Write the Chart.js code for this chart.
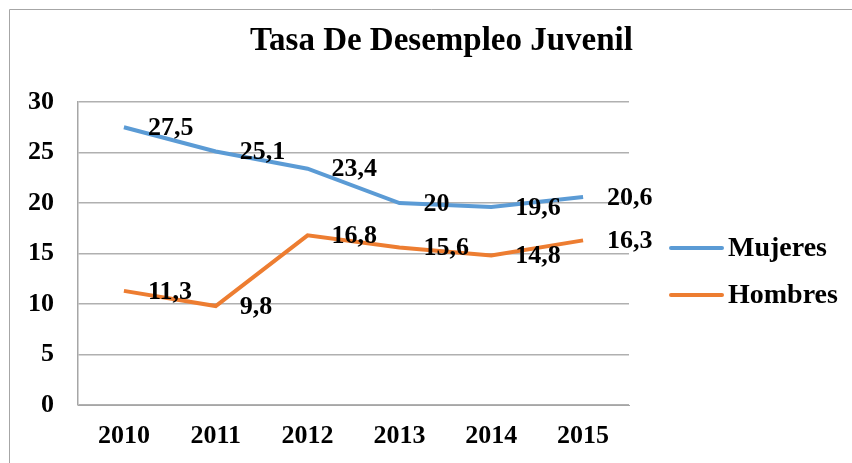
<!DOCTYPE html>
<html>
<head>
<meta charset="utf-8">
<script src="https://cdn.jsdelivr.net/npm/chart.js@4.4.0/dist/chart.umd.min.js"></script>
<style>
  html, body { margin: 0; padding: 0; background: #fff; }
  #wrap { width: 852px; height: 463px; }
</style>
</head>
<body>
<div id="wrap"><canvas id="desempleoChart"></canvas></div>
<script>
// data
const years = ['2010', '2011', '2012', '2013', '2014', '2015'];
const mujeres = [27.5, 25.1, 23.4, 20, 19.6, 20.6];
const hombres = [11.3, 9.8, 16.8, 15.6, 14.8, 16.3];
const seriesNames = ['Mujeres', 'Hombres'];
const yTicks = [0, 5, 10, 15, 20, 25, 30];
const chartTitle = 'Tasa De Desempleo Juvenil';

const serif = "'Liberation Serif', 'Times New Roman', serif";

// frame around the chart (cut at right/bottom like the screenshot) + title
// title is centred on the whole frame, not on the plot area, so draw it here
const framePlugin = {
    id: 'frame',
    beforeDraw(chart) {
        const c = chart.ctx;
        c.save();
        c.strokeStyle = '#a6a6a6';
        c.lineWidth = 1;
        c.beginPath();
        c.moveTo(9.5, 470);
        c.lineTo(9.5, 9.5);
        c.lineTo(860, 9.5);
        c.stroke();

        c.font = 'bold 33px ' + serif;
        c.fillStyle = '#000';
        c.textAlign = 'center';
        c.textBaseline = 'alphabetic';
        c.fillText(chartTitle, 441.5, 50);
        c.restore();
    }
};

// value labels to the right of each point, comma decimals
const valueLabels = {
    id: 'valueLabels',
    afterDatasetsDraw(chart) {
        const c = chart.ctx;
        c.save();
        c.font = 'bold 26px ' + serif;
        c.fillStyle = '#000';
        c.textAlign = 'left';
        c.textBaseline = 'middle';
        chart.data.datasets.forEach((ds, i) => {
            chart.getDatasetMeta(i).data.forEach((pt, j) => {
                const txt = String(ds.data[j]).replace('.', ',');
                c.fillText(txt, pt.x + 24, pt.y + 1);
            });
        });
        c.restore();
    }
};

// legend on the right, line samples
const sideLegend = {
    id: 'sideLegend',
    afterDraw(chart) {
        const c = chart.ctx;
        c.save();
        c.font = 'bold 28px ' + serif;
        c.textBaseline = 'middle';
        c.textAlign = 'left';
        chart.data.datasets.forEach((ds, i) => {
            const y = 248 + i * 47;
            c.strokeStyle = ds.borderColor;
            c.lineWidth = 4;
            c.lineCap = 'round';
            c.beginPath();
            c.moveTo(671, y);
            c.lineTo(722, y);
            c.stroke();
            c.fillStyle = '#000';
            c.fillText(ds.label, 728, y + 1);
        });
        c.restore();
    }
};

new Chart(document.getElementById('desempleoChart').getContext('2d'), {
    type: 'line',
    data: {
        labels: years,
        datasets: [
            {
                label: seriesNames[0],
                data: mujeres,
                borderColor: '#5b9bd5',
                backgroundColor: '#5b9bd5',
                borderWidth: 4,
                pointRadius: 0,
                tension: 0
            },
            {
                label: seriesNames[1],
                data: hombres,
                borderColor: '#ed7d31',
                backgroundColor: '#ed7d31',
                borderWidth: 4,
                pointRadius: 0,
                tension: 0
            }
        ]
    },
    options: {
        responsive: true,
        maintainAspectRatio: false,
        animation: false,
        layout: {
            padding: { left: 10, top: 102, right: 223, bottom: 0 }
        },
        plugins: {
            legend: { display: false },
            tooltip: { enabled: false },
            title: { display: false }
        },
        scales: {
            x: {
                offset: true,
                grid: { display: false, drawTicks: false },
                border: { display: true, color: '#a6a6a6', width: 1 },
                ticks: {
                    color: '#000',
                    padding: 16,
                    maxRotation: 0,
                    font: { family: serif, size: 26, weight: 'bold' }
                },
                afterFit(scale) { scale.height = 58; }
            },
            y: {
                min: 0,
                max: 30,
                afterBuildTicks(scale) { scale.ticks = yTicks.map(v => ({ value: v })); },
                grid: { color: '#b0b0b0', lineWidth: 1.5, drawTicks: false },
                border: { display: true, color: '#a6a6a6', width: 1.5 },
                ticks: {
                    color: '#000',
                    padding: 24,
                    font: { family: serif, size: 26, weight: 'bold' }
                },
                afterFit(scale) { scale.width = 68; }
            }
        }
    },
    plugins: [framePlugin, valueLabels, sideLegend]
});
</script>
</body>
</html>
